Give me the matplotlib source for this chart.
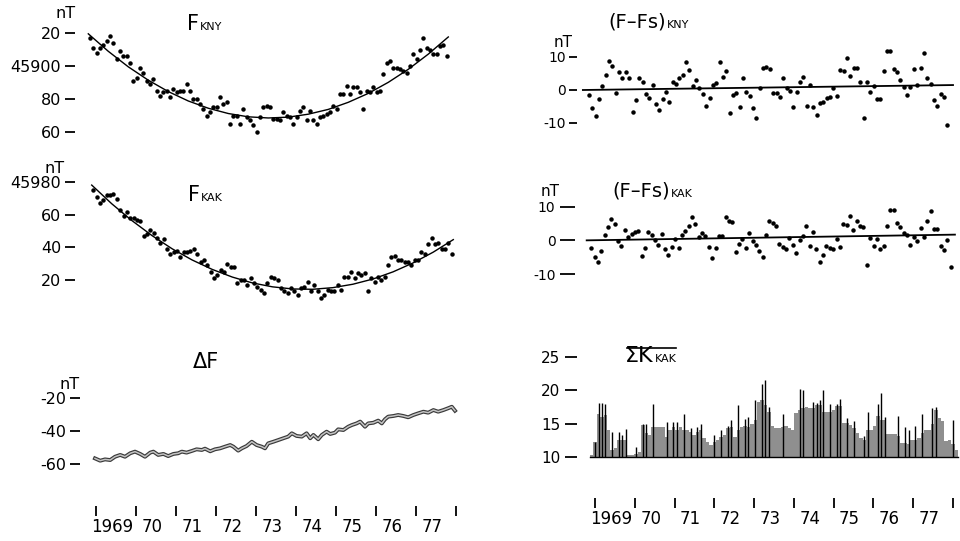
import matplotlib
matplotlib.use('Agg')
import matplotlib.pyplot as plt
import numpy as np

plt.rcParams['font.family'] = ['DejaVu Sans']

W, H = 960, 541

# --- data ---------------------------------------------------------------
years = list(range(1969, 1979))
year_labels = ['1969', '70', '71', '72', '73', '74', '75', '76', '77']

# monthly means, Jan 1969 .. Dec 1977
f_kny = [45917, 45911, 45908, 45911, 45913, 45915, 45918, 45914, 45904, 45909, 45906, 45906,
         45902, 45891, 45893, 45899, 45896, 45891, 45889, 45892, 45885, 45882, 45884, 45885,
         45881, 45886, 45884, 45885, 45885, 45889, 45885, 45880, 45880, 45877, 45874, 45870,
         45872, 45875, 45875, 45881, 45877, 45878, 45865, 45870, 45870, 45865, 45874, 45869,
         45867, 45864, 45860, 45869, 45875, 45876, 45875, 45868, 45868, 45867, 45872, 45870,
         45869, 45865, 45869, 45873, 45875, 45867, 45873, 45867, 45865, 45869, 45870, 45871,
         45872, 45876, 45874, 45883, 45883, 45888, 45883, 45887, 45887, 45884, 45874, 45885,
         45884, 45887, 45884, 45885, 45895, 45902, 45903, 45899, 45899, 45898, 45897, 45896,
         45900, 45907, 45904, 45910, 45917, 45911, 45910, 45907, 45907, 45912, 45913, 45906]

f_kak = [45975, 45971, 45967, 45969, 45972, 45972, 45973, 45970, 45963, 45959, 45962, 45958,
         45958, 45957, 45956, 45947, 45948, 45951, 45949, 45946, 45943, 45945, 45939, 45936,
         45937, 45938, 45934, 45937, 45937, 45938, 45939, 45936, 45931, 45932, 45929, 45925,
         45921, 45923, 45926, 45925, 45930, 45928, 45928, 45918, 45920, 45920, 45917, 45921,
         45918, 45916, 45914, 45912, 45918, 45922, 45921, 45920, 45915, 45913, 45912, 45915,
         45913, 45911, 45915, 45916, 45919, 45913, 45917, 45913, 45909, 45911, 45914, 45913,
         45913, 45917, 45914, 45922, 45922, 45925, 45921, 45924, 45923, 45924, 45913, 45921,
         45919, 45922, 45920, 45922, 45929, 45934, 45935, 45932, 45932, 45931, 45931, 45929,
         45932, 45932, 45937, 45936, 45942, 45946, 45942, 45943, 45939, 45939, 45943, 45936]

# secular fits Fs
fit_t = [1969.0, 1969.5, 1970.0, 1970.5, 1971.0, 1971.5, 1972.0, 1972.5, 1973.0, 1973.5,
         1974.0, 1974.5, 1975.0, 1975.5, 1976.0, 1976.5, 1977.0, 1977.5, 1978.0]
kny_fit = [45919.5, 45908.9, 45899.5, 45891.4, 45884.5, 45878.8, 45874.4, 45871.2, 45869.2, 45868.5,
           45869.0, 45870.8, 45873.7, 45878.0, 45883.4, 45890.1, 45898.0, 45907.2, 45917.6]
kak_fit = [45978.3, 45966.8, 45956.5, 45947.3, 45939.2, 45932.3, 45926.5, 45921.8, 45918.2, 45915.8,
           45914.5, 45914.3, 45915.3, 45917.4, 45920.6, 45925.0, 45930.5, 45937.1, 45944.8]

# residuals F - Fs
res_kny = [-1.5, -5.6, -7.8, -2.8, 1.3, 4.5, 8.9, 7.3, -1.0, 5.4, 3.5, 5.6,
           3.5, -6.8, -3.0, 3.5, 2.3, -1.2, -2.5, 1.5, -4.3, -6.1, -2.8, -0.5,
           -3.5, 2.5, 1.7, 3.5, 4.5, 8.6, 6.1, 1.3, 3.0, 0.7, -1.3, -4.7,
           -2.5, 1.5, 2.0, 8.4, 4.0, 5.8, -7.1, -1.5, -1.0, -5.1, 3.7, -0.5,
           -1.7, -5.4, -8.6, 0.5, 6.6, 7.1, 6.4, -1.0, -1.0, -2.0, 3.5, 0.7,
           -0.3, -5.1, -0.7, 2.3, 4.0, -4.7, 1.5, -5.1, -7.6, -4.0, -3.5, -2.5,
           -2.0, 0.7, -1.7, 6.1, 5.8, 9.6, 4.3, 6.8, 6.8, 2.3, -8.6, 2.3,
           -0.5, 1.3, -2.7, -2.7, 5.8, 11.8, 11.8, 6.4, 5.6, 3.0, 1.0, -1.5,
           1.0, 6.4, 1.5, 6.6, 11.1, 3.7, 1.7, -3.0, -4.7, -1.3, -2.0, -10.6]
res_kak = [-2.3, -5.0, -6.5, -3.3, 1.5, 4.0, 6.3, 5.0, -0.3, -1.7, 3.1, 1.0,
           2.0, 2.5, 2.7, -4.7, -2.2, 2.5, 1.7, 0.0, -1.3, 2.0, -2.7, -4.3,
           -2.0, 0.5, -2.2, 1.5, 2.7, 4.3, 7.0, 5.0, 1.0, 2.3, 1.3, -2.0,
           -5.1, -2.3, 1.3, 1.3, 7.0, 5.7, 5.5, -3.5, -1.0, 0.5, -2.3, 2.2,
           -0.3, -1.5, -3.3, -5.0, 1.5, 5.7, 5.2, 4.3, -1.0, -2.0, -2.7, 0.7,
           -1.3, -3.8, 0.2, 1.3, 4.3, -1.7, 2.5, -2.5, -6.3, -4.5, -1.7, -2.3,
           -2.7, 0.5, -2.0, 5.0, 4.7, 7.2, 3.0, 5.7, 4.3, 4.0, -7.3, 0.7,
           -1.8, 0.5, -2.5, -1.8, 4.3, 9.0, 9.0, 5.3, 4.0, 2.3, 1.5, -1.3,
           1.0, -0.2, 3.7, 1.0, 5.8, 8.7, 3.5, 3.5, -1.8, -3.0, 0.0, -8.0]
kny_trend_t = [1968.89, 1978.1]
kny_trend = [0.0, 1.5]
kak_trend_t = [1968.93, 1978.06]
kak_trend = [0.0, 1.7]

# Delta F = F_KNY - F_KAK
df_t = [1969.00, 1969.13, 1969.25, 1969.38, 1969.50, 1969.63, 1969.75, 1969.88, 1970.00, 1970.13,
        1970.25, 1970.38, 1970.46, 1970.58, 1970.71, 1970.83, 1970.96, 1971.08, 1971.17, 1971.29,
        1971.42, 1971.54, 1971.67, 1971.75, 1971.88, 1972.00, 1972.13, 1972.25, 1972.38, 1972.46,
        1972.58, 1972.67, 1972.79, 1972.92, 1973.04, 1973.17, 1973.25, 1973.33, 1973.46, 1973.58,
        1973.71, 1973.83, 1973.92, 1974.04, 1974.17, 1974.29, 1974.38, 1974.46, 1974.58, 1974.67,
        1974.79, 1974.88, 1975.00, 1975.08, 1975.21, 1975.33, 1975.42, 1975.54, 1975.63, 1975.75,
        1975.83, 1975.96, 1976.08, 1976.17, 1976.25, 1976.33, 1976.46, 1976.58, 1976.71, 1976.83,
        1976.96, 1977.08, 1977.21, 1977.33, 1977.46, 1977.58, 1977.71, 1977.83, 1977.92, 1978.00]
df = [-56.6, -58.0, -57.2, -57.6, -55.6, -54.5, -55.6, -53.5, -52.5, -53.9,
      -55.6, -53.1, -52.5, -54.5, -53.9, -55.2, -53.9, -53.5, -52.5, -53.1,
      -52.1, -51.1, -51.5, -50.7, -52.3, -51.1, -50.5, -49.5, -48.5, -49.5,
      -51.9, -50.5, -49.1, -46.5, -48.5, -49.5, -50.5, -47.5, -46.5, -45.5,
      -44.4, -43.4, -41.4, -43.0, -43.4, -41.4, -44.4, -42.4, -45.0, -42.4,
      -40.4, -41.8, -41.0, -39.0, -39.4, -37.4, -36.4, -35.4, -34.3, -37.4,
      -35.4, -35.0, -33.7, -35.4, -32.9, -31.3, -30.9, -30.3, -30.9, -31.7,
      -30.3, -29.3, -28.3, -28.9, -27.3, -28.3, -27.3, -26.2, -25.3, -27.7]

# monthly mean sum K at KAK
sk_kak = [10.3, 12.3, 16.5, 16.0, 16.3, 14.0, 11.0, 11.3, 12.5, 12.5, 12.5, 10.3,
          10.3, 10.5, 10.8, 14.8, 13.6, 13.3, 14.5, 14.5, 14.5, 14.5, 13.0, 14.0,
          14.5, 14.0, 14.5, 14.0, 14.0, 13.8, 13.3, 13.8, 14.0, 12.8, 12.3, 11.8,
          12.3, 12.5, 13.0, 13.3, 14.3, 14.5, 13.0, 14.0, 14.5, 14.7, 14.5, 15.0,
          15.6, 18.3, 18.6, 17.8, 16.8, 14.6, 14.4, 14.4, 14.5, 14.6, 14.4, 14.1,
          16.6, 17.1, 17.3, 17.5, 17.3, 17.3, 17.8, 17.8, 16.8, 16.8, 16.8, 17.1,
          17.6, 17.6, 15.1, 15.1, 14.8, 14.3, 13.6, 12.9, 12.6, 14.1, 14.1, 14.6,
          16.1, 15.6, 15.6, 13.5, 13.5, 13.4, 13.2, 12.1, 12.1, 12.0, 12.6, 12.6,
          12.9, 13.6, 14.1, 14.0, 14.9, 17.1, 15.9, 15.4, 12.4, 12.6, 11.9, 11.1]
spike_month = [1, 2, 3, 4, 6, 8, 9, 10, 13, 15, 16, 18, 22, 24, 25, 27, 29, 31, 32, 36,
               38, 40, 41, 43, 45, 46, 48, 50, 51, 52, 56, 61, 62, 65, 66, 67, 68, 70, 72, 73,
               75, 77, 80, 81, 84, 85, 86, 90, 92, 93, 95, 97, 100, 101, 106]
spike_val = [12.3, 18.1, 18.1, 18.0, 13.8, 13.8, 13.3, 14.2, 11.5, 15.0, 15.0, 18.0, 15.3, 15.2, 15.2, 16.5, 14.3, 14.5, 15.0, 13.3,
             14.0, 14.7, 15.5, 17.8, 15.7, 16.0, 18.5, 21.0, 21.5, 17.5, 16.4, 20.2, 20.0, 18.2, 18.1, 18.5, 20.1, 17.9, 17.9, 18.7,
             15.9, 15.4, 13.1, 16.7, 17.9, 19.6, 16.0, 16.2, 14.5, 14.0, 14.7, 16.4, 17.4, 17.5, 15.5]

month_t = 1969 + (np.arange(108) + 0.5) / 12
month_start = 1969 + np.arange(108) / 12

fig = plt.figure(figsize=(9.6, 5.41), dpi=100)


def panel(left, right, top, bottom, x0, x1, ya, va, yb, vb):
    """axes placed in pixels; year 1969 at x0, 1978 at x1; value va at ya, vb at yb"""
    ax = fig.add_axes([left / W, 1 - bottom / H, (right - left) / W, (bottom - top) / H])
    ppy = (x1 - x0) / 9
    ax.set_xlim(1969 + (left - x0) / ppy, 1969 + (right - x0) / ppy)
    vpp = (vb - va) / (yb - ya)
    ax.set_ylim(va + (bottom - ya) * vpp, va + (top - ya) * vpp)
    for s in ax.spines.values():
        s.set_visible(False)
    ax.set_xticks([])
    ax.patch.set_alpha(0)
    return ax


def yticks(ax, vals, labels, size, length, pad):
    ax.set_yticks(vals, labels)
    ax.tick_params(axis='y', length=length, width=1.3, pad=pad, labelsize=size)


def ftext(x, y, s, **kw):
    return fig.text(x / W, 1 - y / H, s, **kw)


def title(x, y, big, small, size=15, ssize=8):
    t = ftext(x, y, big, fontsize=size, va='baseline')
    fig.canvas.draw()
    bb = t.get_window_extent()
    s = fig.text(bb.x1 / W + 0.001, 1 - y / H, small, fontsize=ssize, va='baseline')
    return t, s


def year_row(left, right, x0, x1, y):
    ax = panel(left, right, y - 1, y, x0, x1, 0, 0, 1, 1)
    ax.set_yticks([])
    ax.set_xticks(years, [''] * len(years))
    ax.set_xticks([yr + 0.4 for yr in years[:-1]], year_labels, minor=True)
    ax.tick_params(axis='x', which='major', direction='out', length=7, width=1.3)
    ax.tick_params(axis='x', which='minor', length=0, pad=9, labelsize=12)


# F KNY
ax = panel(75, 462, 15, 145, 88.3, 448.3, 33, 45920, 132, 45860)
ax.plot(fit_t, kny_fit, color='black', lw=1.0)
ax.plot(month_t, f_kny, 'o', color='black', ms=2.2)
yticks(ax, [45920, 45900, 45880, 45860], ['20', '45900', '80', '60'], 11.5, 7, 3)
ftext(66, 18, 'nT', fontsize=11.5, ha='center', va='baseline')
title(187, 30, 'F', 'KNY')

# F KAK
ax = panel(75, 462, 165, 300, 91.7, 453.3, 182.3, 45980, 280, 45920)
ax.plot(fit_t, kak_fit, color='black', lw=1.0)
ax.plot(month_t, f_kak, 'o', color='black', ms=2.2)
yticks(ax, [45980, 45960, 45940, 45920], ['45980', '60', '40', '20'], 11.5, 7, 3)
ftext(55, 173, 'nT', fontsize=11.5, ha='center', va='baseline')
title(188, 201, 'F', 'KAK')

# Delta F
ax = panel(80, 465, 370, 480, 95, 455, 398, -20, 464, -60)
ax.plot(df_t, df, color='#3a3a3a', lw=2.8, solid_joinstyle='round')
ax.plot(df_t, df, color='#c4c4c4', lw=1.1, solid_joinstyle='round')
yticks(ax, [-20, -40, -60], ['-20', '-40', '-60'], 11.5, 7, 3)
ftext(70, 389, 'nT', fontsize=11.5, ha='center', va='baseline')
ftext(193, 368, 'ΔF', fontsize=15, va='baseline')

year_row(80, 465, 96, 456, 506)

# (F-Fs) KNY
ax = panel(577, 960, 35, 140, 587.3, 949, 57, 10, 123, -10)
ax.plot(kny_trend_t, kny_trend, color='black', lw=1.3)
ax.plot(month_t, res_kny, 'o', color='black', ms=2.2)
yticks(ax, [10, 0, -10], ['10', '0', '-10'], 10, 6, 2)
ftext(563, 47, 'nT', fontsize=11, ha='center', va='baseline')
title(608, 28, '(F–Fs)', 'KNY', size=14)

# (F-Fs) KAK
ax = panel(575, 960, 185, 290, 589.5, 952.5, 206.7, 10, 274, -10)
ax.plot(kak_trend_t, kak_trend, color='black', lw=1.3)
ax.plot(month_t, res_kak, 'o', color='black', ms=2.2)
yticks(ax, [10, 0, -10], ['10', '0', '-10'], 10, 11, 3)
ftext(550, 196, 'nT', fontsize=11, ha='center', va='baseline')
title(612, 197, '(F–Fs)', 'KAK', size=14)

# sum K KAK
ax = panel(577, 962, 345, 470, 590, 958, 457, 10, 357, 25)
ax.bar(month_start, np.array(sk_kak) - 10, bottom=10, width=1 / 12, align='edge',
       color='#8f8f8f', linewidth=0)
ax.vlines([month_t[m] for m in spike_month], 10, spike_val, color='black', lw=1.0)
ax.plot([1969, 1978], [10, 10], color='black', lw=1.0)
yticks(ax, [10, 15, 20, 25], ['10', '15', '20', '25'], 11, 9, 3)
t, s = title(625, 362, 'ΣK', 'KAK', size=16)
fig.canvas.draw()
b1, b2 = t.get_window_extent(), s.get_window_extent()
ytop = b1.y1 - 2
fig.add_artist(plt.Line2D([(b1.x0 + 2) / W, b2.x1 / W], [ytop / H, ytop / H], color='black', lw=1.2))

year_row(577, 962, 595, 953, 498)

fig.savefig('out.png', dpi=100)
